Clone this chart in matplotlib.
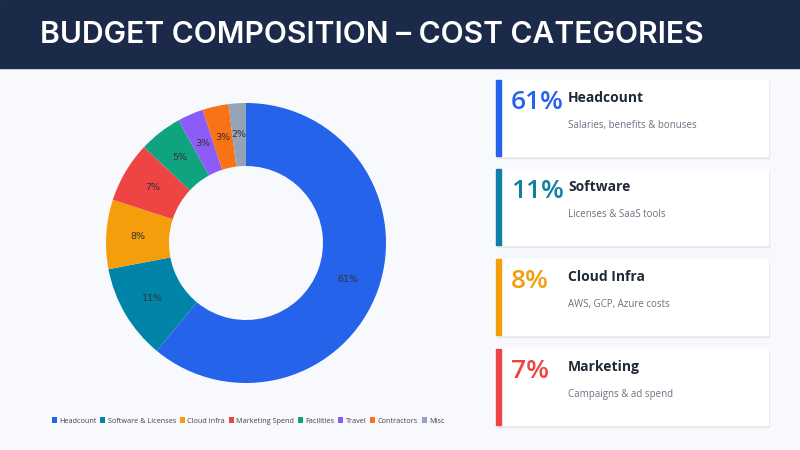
import matplotlib.pyplot as plt
from matplotlib.patches import Rectangle

# budget shares, clockwise from 12 o'clock
categories = ['Headcount', 'Software & Licenses', 'Cloud Infra', 'Marketing Spend',
              'Facilities', 'Travel', 'Contractors', 'Misc']
shares = [61, 11, 8, 7, 5, 3, 3, 2]
colors = ['#2563eb', '#0284a8', '#f59e0b', '#ef4444', '#10a37f', '#8b5cf6', '#f97316', '#94a3b8']

# the four highlight cards on the right
card_pct = [61, 11, 8, 7]
card_titles = ['Headcount', 'Software', 'Cloud Infra', 'Marketing']
card_notes = ['Salaries, benefits & bonuses', 'Licenses & SaaS tools',
              'AWS, GCP, Azure costs', 'Campaigns & ad spend']
card_colors = ['#2563eb', '#0e7fa6', '#f59e0b', '#ef4444']

W, H = 800, 450
fig = plt.figure(figsize=(W / 100, H / 100), dpi=100)
fig.patch.set_facecolor('#f8f9fd')

# overlay in pixel coords for header + cards
bg = fig.add_axes([0, 0, 1, 1])
bg.set_xlim(0, W)
bg.set_ylim(H, 0)
bg.axis('off')
bg.add_patch(Rectangle((0, 0), W, 68, color='#1c2a4a', zorder=1))
bg.text(40, 35, 'BUDGET COMPOSITION \u2013 COST CATEGORIES', color='white',
        fontsize=21.6, fontfamily='Inter', fontweight='semibold', va='center', ha='left')

card_top = [80, 169, 259, 349]
card_h = 76
for i in range(len(card_pct)):
    top = card_top[i]
    bg.add_patch(Rectangle((497, top + 1.5), 272, card_h, color='#e6e8ef', zorder=1))
    bg.add_patch(Rectangle((496, top), 272, card_h, color='white', zorder=2))
    bg.add_patch(Rectangle((496, top), 4.5, card_h, color=card_colors[i], zorder=3))
    bg.text(511, top + 29, f'{card_pct[i]}%', color=card_colors[i], fontsize=19,
            fontfamily='Open Sans', fontweight='semibold', va='baseline', zorder=4)
    bg.text(568, top + 22, card_titles[i], color='#1f2937', fontsize=10,
            fontfamily='Open Sans', fontweight='bold', va='baseline', zorder=4)
    bg.text(568, top + 48, card_notes[i], color='#6b7280', fontsize=7,
            fontfamily='Open Sans', va='baseline', zorder=4)

# donut
ax = fig.add_axes([106 / W, 67 / H, 280 / W, 280 / H])
wedges, texts, autotexts = ax.pie(
    shares, colors=colors, startangle=90, counterclock=False, radius=1,
    wedgeprops=dict(width=0.45, edgecolor='none'),
    autopct='%d%%', pctdistance=0.775,
    textprops=dict(fontsize=6.8, color='#333333', fontfamily='DejaVu Sans'))
ax.set_xlim(-1, 1)
ax.set_ylim(-1, 1)
ax.set_aspect('equal')
ax.axis('off')

fig.legend(wedges, categories, loc='center', bbox_to_anchor=(248 / W, 1 - 421 / H),
           ncol=len(categories), frameon=False,
           prop=dict(family='Open Sans', size=5.2),
           handlelength=0.7, handleheight=0.7, handletextpad=0.3, columnspacing=0.55,
           labelcolor='#444444')

fig.savefig('out.png', dpi=100, facecolor=fig.get_facecolor())
